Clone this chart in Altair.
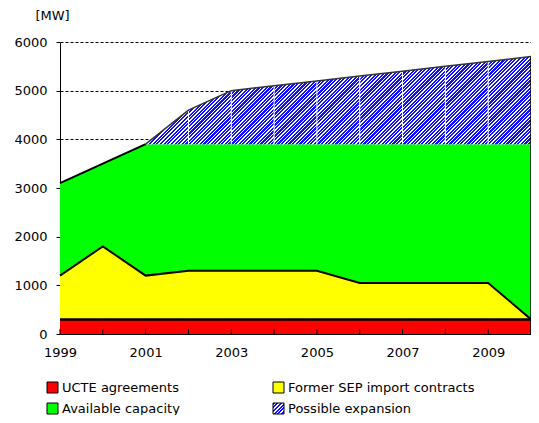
import altair as alt
import pandas as pd

# ---- data (MW) ----
years = list(range(1999, 2011))
ucte = [300, 300, 300, 300, 300, 300, 300, 300, 300, 300, 300, 300]
sep = [900, 1500, 900, 1000, 1000, 1000, 1000, 750, 750, 750, 750, 0]
available = [1900, 1700, 2700, 2600, 2600, 2600, 2600, 2850, 2850, 2850, 2850, 3600]
expansion = [0, 0, 0, 700, 1100, 1200, 1300, 1400, 1500, 1600, 1700, 1800]

legend_labels = ["UCTE agreements", "Former SEP import contracts",
                 "Available capacity", "Possible expansion"]
x_label_years = [1999, 2001, 2003, 2005, 2007, 2009]
y_ticks = [0, 1000, 2000, 3000, 4000, 5000, 6000]

RED, YELLOW, GREEN, BLUE = "#ff0000", "#ffff00", "#00ff00", "#1010ff"

df = pd.DataFrame({"year": years, "ucte": ucte, "sep": sep,
                   "avail": available, "exp": expansion})
df["zero"] = 0
df["t1"] = df["ucte"]
df["t2"] = df["t1"] + df["sep"]
df["t3"] = df["t2"] + df["avail"]
df["t4"] = df["t3"] + df["exp"]

W, H = 471, 292
YMAX = 6000
FONT = "DejaVu Sans"


def hatch(w, h, period, frac=0.5, c1=BLUE, c2="#ffffff"):
    a = (w + h) * w / (w * w + h * h)
    n = max(1, round((w + h) / period))
    stops = []
    for k in range(n):
        t0, tm, t1 = k / n, (k + frac) / n, (k + 1) / n
        stops += [alt.GradientStop(offset=t0, color=c1),
                  alt.GradientStop(offset=tm, color=c1),
                  alt.GradientStop(offset=tm, color=c2),
                  alt.GradientStop(offset=t1, color=c2)]
    return alt.LinearGradient(gradient="linear", stops=stops,
                              x1=0, y1=0, x2=a, y2=a * h / w)


xs = alt.Scale(domain=[years[0], years[-1]], nice=False, zero=False)
ys = alt.Scale(domain=[0, YMAX], nice=False)

X = alt.X("year:Q", scale=xs,
          axis=alt.Axis(values=x_label_years, format="d", ticks=False, grid=False,
                        domainColor="black", labelPadding=12, title=None,
                        labelFlush=False,
                        labelFontSize=13, labelColor="black", labelFont=FONT))


def Y(field):
    return alt.Y(f"{field}:Q", scale=ys,
                 axis=alt.Axis(values=y_ticks, format="d", title="[MW]", titleAngle=0,
                               titleX=-8, titleY=-27, titleAlign="center",
                               titleBaseline="middle", titleFontWeight="normal",
                               titleFontSize=13, titleFont=FONT, titleColor="black",
                               grid=True, gridDash=[3, 2], gridColor="black",
                               gridOpacity=1, gridWidth=1, labelFlush=False,
                               tickSize=4, tickColor="black", domainColor="black",
                               labelPadding=9, labelFontSize=13, labelColor="black",
                               labelFont=FONT))


base = alt.Chart(df)

red = base.mark_area(color=RED).encode(x=X, y=Y("t1"), y2="zero")
yellow = base.mark_area(color=YELLOW).encode(x=X, y=Y("t2"), y2="t1")
green = base.mark_area(color=GREEN).encode(x=X, y=Y("t3"), y2="t2")

# hatched "possible expansion": one area segment per year interval,
# each with its own striped gradient (bbox-relative)
exp_df = df[df["year"] >= 2001]
seg_w = W / (years[-1] - years[0])
hatch_layers = []
for y0 in range(2001, years[-1]):
    seg = df[(df["year"] >= y0) & (df["year"] <= y0 + 1)]
    seg_h = H * (seg["t4"].max() - seg["t3"].min()) / YMAX
    if seg_h <= 0:
        continue
    hatch_layers.append(
        alt.Chart(seg).mark_area(color=hatch(seg_w, seg_h, 3.6, frac=0.6)).encode(
            x=X, y=Y("t4"), y2="t3"))

white_rules = alt.Chart(df[(df["year"] > 2001) & (df["year"] < 2010)]).mark_rule(
    color="white", strokeWidth=1).encode(x=X, y=Y("t3"), y2="t4")

line_red = base.mark_line(color="black", strokeWidth=2.5).encode(x=X, y=Y("t1"))
line_yel = base.mark_line(color="black", strokeWidth=2).encode(x=X, y=Y("t2"))
line_grn = alt.Chart(df[df["year"] <= 2001]).mark_line(
    color="black", strokeWidth=2).encode(x=X, y=Y("t3"))
line_blu = alt.Chart(exp_df).mark_line(color="#333333", strokeWidth=1.5).encode(
    x=X, y=Y("t4"))
right_edge = alt.Chart(df[df["year"] == years[-1]]).mark_rule(
    color="black", strokeWidth=1.5).encode(x=X, y=Y("t4"), y2="zero")

xticks = base.mark_rule(color="black", strokeWidth=1).encode(
    x=X, y=alt.value(H), y2=alt.value(H - 5))

# ---- manual legend ----
one = pd.DataFrame({"k": [0]})
leg_fills = [RED, YELLOW, GREEN, hatch(11, 11, 3.6, frac=0.55)]
col_x = [-13, 213]
row_y = [340, 361]
SQ = 11
legend_layers = []
for i, (lab, fill) in enumerate(zip(legend_labels, leg_fills)):
    cx = col_x[i % 2]
    ry = row_y[i // 2]
    legend_layers.append(
        alt.Chart(one).mark_rect(color=fill, stroke="black", strokeWidth=1).encode(
            x=alt.value(cx), x2=alt.value(cx + SQ),
            y=alt.value(ry), y2=alt.value(ry + SQ)))
    legend_layers.append(
        alt.Chart(one).mark_text(text=lab, align="left", baseline="middle",
                                 font=FONT, fontSize=13, color="black").encode(
            x=alt.value(cx + SQ + 4), y=alt.value(ry + SQ / 2 + 0.5)))

chart = alt.layer(
    red, yellow, green, *hatch_layers, white_rules,
    line_yel, line_grn, line_blu, line_red, right_edge, xticks,
    *legend_layers
).properties(
    width=W, height=H,
    autosize=alt.AutoSizeParams(type="none"),
    padding={"left": 52, "top": 34, "right": 0, "bottom": 81},
).configure_view(stroke=None)

chart.save("out.html", embed_options={"renderer": "svg", "actions": False})
